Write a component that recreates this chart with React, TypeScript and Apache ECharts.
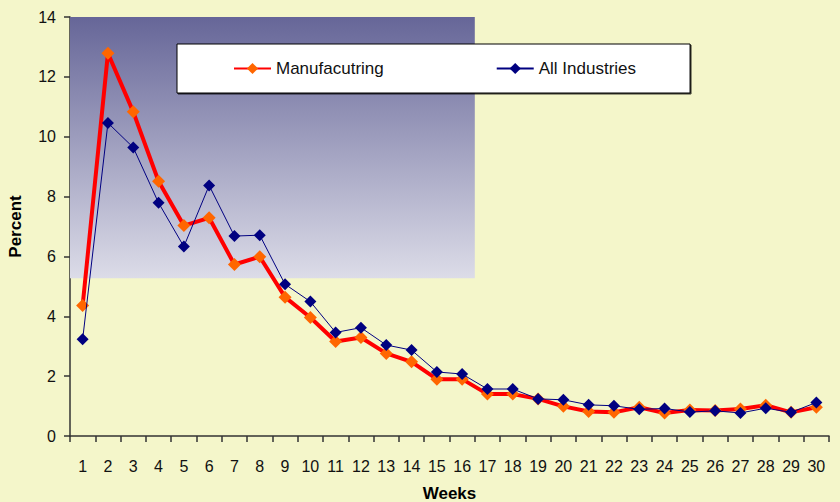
import React, { useEffect, useRef } from "react";
import * as echarts from "echarts";

// Weekly share (percent) by week number
const weeks: string[] = Array.from({ length: 30 }, (_, i) => String(i + 1));

const manufacturing: number[] = [
  4.36, 12.79, 10.83, 8.51, 7.03, 7.29, 5.73, 5.99, 4.64, 3.96,
  3.16, 3.29, 2.76, 2.48, 1.9, 1.9, 1.4, 1.4, 1.24, 0.99,
  0.82, 0.79, 0.96, 0.77, 0.87, 0.85, 0.9, 1.03, 0.79, 0.96,
];

const allIndustries: number[] = [
  3.23, 10.46, 9.64, 7.79, 6.33, 8.37, 6.68, 6.71, 5.07, 4.49,
  3.46, 3.62, 3.04, 2.87, 2.14, 2.07, 1.57, 1.57, 1.24, 1.21,
  1.04, 1.01, 0.89, 0.92, 0.8, 0.84, 0.77, 0.93, 0.79, 1.12,
];

// Shaded backdrop region: weeks 0–16 (band edges), percent 5.27–14
const shadeWeeks: number[] = [0, 16];
const shadePercent: number[] = [5.27, 14];

const FONT = "'Liberation Sans', Arial, sans-serif";

export default function App() {
  const ref = useRef<HTMLDivElement>(null);

  useEffect(() => {
    if (!ref.current) return;
    const chart = echarts.init(ref.current, null, { renderer: "svg" });
    chart.setOption({
      animation: false,
      backgroundColor: "#f4f6ca",
      textStyle: { fontFamily: FONT },
      grid: {
        left: 70,
        top: 17,
        right: 11,
        bottom: 66,
        containLabel: false,
        outerBoundsMode: "none",
      },
      legend: {
        left: 177,
        top: 44,
        orient: "horizontal",
        padding: [16, 54, 16, 56],
        itemGap: 112,
        itemWidth: 37,
        itemHeight: 14,
        backgroundColor: "#ffffff",
        borderColor: "#000000",
        borderWidth: 1,
        shadowColor: "rgba(0,0,0,0.75)",
        shadowBlur: 0,
        shadowOffsetX: 1,
        shadowOffsetY: 1,
        textStyle: { fontFamily: FONT, fontSize: 17, color: "#111111" },
        data: ["Manufacutring", "All Industries"],
      },
      xAxis: [
        {
          type: "category",
          data: weeks,
          boundaryGap: true,
          name: "Weeks",
          nameLocation: "middle",
          nameGap: 49,
          nameTextStyle: { fontFamily: FONT, fontSize: 17, fontWeight: "bold", color: "#000" },
          axisLine: { lineStyle: { color: "#333333", width: 1.5 } },
          axisTick: { show: true, length: 6, alignWithLabel: false, lineStyle: { color: "#333333", width: 1.5 } },
          axisLabel: { margin: 22, fontFamily: FONT, fontSize: 16, color: "#111111", interval: 0 },
          splitLine: { show: false },
        },
        {
          type: "value",
          min: 0,
          max: 30,
          show: false,
        },
      ],
      yAxis: {
        type: "value",
        min: 0,
        max: 14,
        interval: 2,
        name: "Percent",
        nameLocation: "middle",
        nameGap: 46,
        nameRotate: 90,
        nameTextStyle: { fontFamily: FONT, fontSize: 17, fontWeight: "bold", color: "#000" },
        axisLine: { show: true, lineStyle: { color: "#333333", width: 1.5 } },
        axisTick: { show: true, length: 6, inside: false, lineStyle: { color: "#333333", width: 1.5 } },
        axisLabel: { margin: 14, fontFamily: FONT, fontSize: 16, color: "#111111", padding: [5, 0, 0, 0] },
        splitLine: { show: false },
      },
      series: [
        {
          name: "shade",
          type: "line",
          xAxisIndex: 1,
          data: [],
          silent: true,
          z: 0,
          markArea: {
            silent: true,
            itemStyle: {
              color: new echarts.graphic.LinearGradient(0, 0, 0, 1, [
                { offset: 0, color: "#666698" },
                { offset: 1, color: "#dcdce8" },
              ]),
            },
            data: [
              [
                { coord: [shadeWeeks[0], shadePercent[1]] },
                { coord: [shadeWeeks[1], shadePercent[0]] },
              ],
            ],
          },
        },
        {
          name: "Manufacutring",
          type: "line",
          data: manufacturing,
          symbol: "diamond",
          symbolSize: 13,
          lineStyle: { color: "#ff0000", width: 4 },
          itemStyle: { color: "#ff6600", borderWidth: 0 },
          z: 3,
        },
        {
          name: "All Industries",
          type: "line",
          data: allIndustries,
          symbol: "diamond",
          symbolSize: 12,
          lineStyle: { color: "#000080", width: 1 },
          itemStyle: { color: "#000080", borderWidth: 0 },
          z: 4,
        },
      ],
    });
    return () => chart.dispose();
  }, []);

  return (
    <div
      ref={ref}
      style={{ position: "fixed", left: 0, top: 0, width: 840, height: 502 }}
    />
  );
}
